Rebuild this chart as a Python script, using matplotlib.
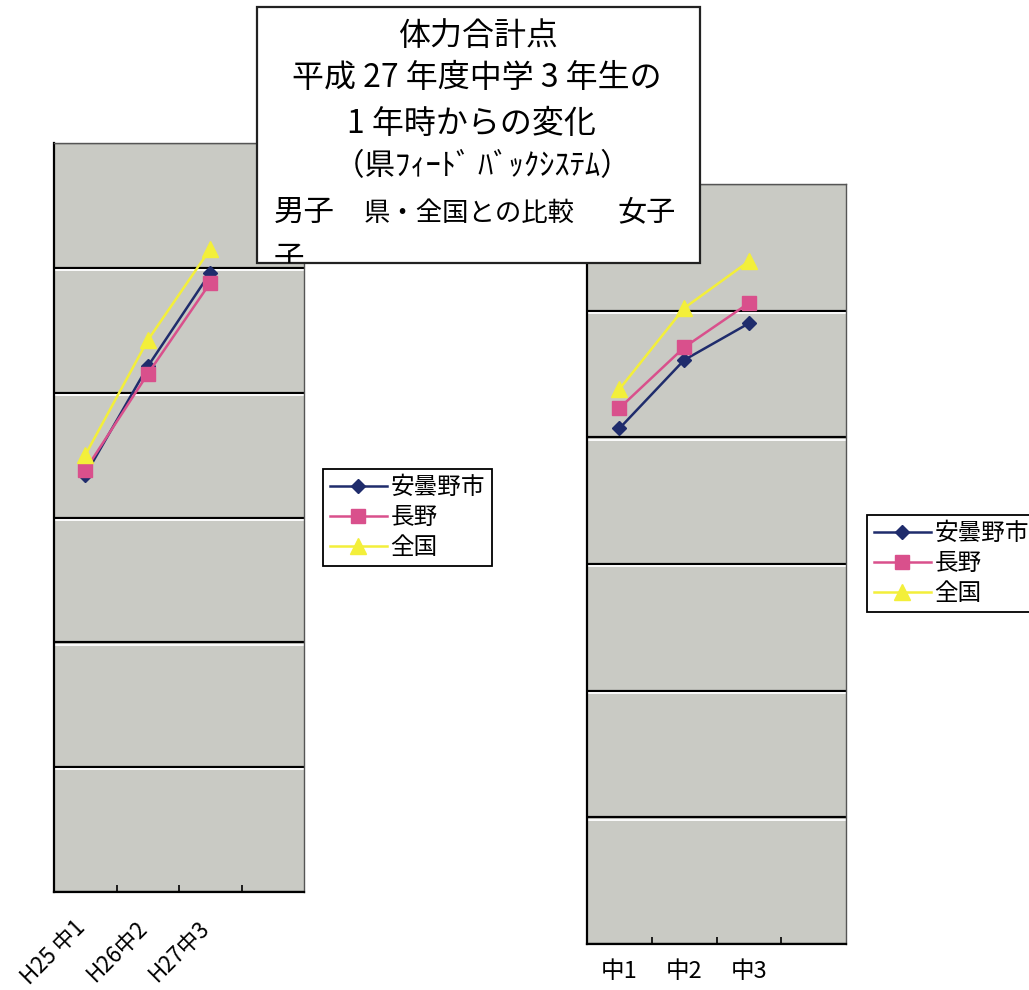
import matplotlib
matplotlib.use('Agg')
import matplotlib.pyplot as plt
from matplotlib.patches import Rectangle
from matplotlib.transforms import ScaledTranslation, blended_transform_factory

plt.rcParams['font.family'] = ['Noto Sans CJK JP', 'DejaVu Sans']

# ---------------- data ----------------
series_names = ['安曇野市', '長野', '全国']
boys_categories = ['H25 中1', 'H26中2', 'H27中3']
girls_categories = ['中1', '中2', '中3']

boys_azumino = [33.4, 42.1, 49.6]
boys_nagano = [33.8, 41.5, 48.8]
boys_national = [35.0, 44.2, 51.5]

girls_azumino = [40.7, 46.1, 49.0]
girls_nagano = [42.3, 47.1, 50.6]
girls_national = [43.8, 50.2, 53.9]

title_lines = ['体力合計点', '平成 27 年度中学 3 年生の', '1 年時からの変化',
               '（県ﾌｨｰﾄﾞ ﾊﾞｯｸｼｽﾃﾑ）']
sub_left, sub_mid, sub_right = '男子', '県・全国との比較', '女子'
overflow_char = '子'

# ---------------- style ----------------
W, H = 1029, 990
fig = plt.figure(figsize=(W / 100, H / 100), dpi=100)
fig.patch.set_facecolor('white')


def fx(px):
    return px / W


def fy(py):
    return 1 - py / H


colors = ['#1f2c6c', '#d9508c', '#f3ef3a']
markers = ['D', 's', '^']
msizes = [7, 10, 11]
plot_bg = '#c9cac4'


def make_panel(left, top, right, bottom, cats, data, rotated, legend_xy):
    ax = fig.add_axes([fx(left), fy(bottom), fx(right) - fx(left), fy(top) - fy(bottom)])
    ax.set_facecolor(plot_bg)
    ax.set_xlim(-0.5, 3.5)
    ax.set_ylim(0, 60)
    ax.set_yticks(range(0, 61, 10))
    ax.yaxis.grid(True, color='black', lw=1.6)
    ax.set_axisbelow(True)
    ax.tick_params(axis='y', length=0, labelleft=False)
    ax.set_xticks([0.5, 1.5, 2.5])
    ax.tick_params(axis='x', direction='in', length=5, width=1.2, labelbottom=False)
    off = ScaledTranslation(0, -2.2 / 100, fig.dpi_scale_trans)
    for yv in ax.get_yticks()[1:-1]:
        ax.plot([0, 1], [yv, yv], color='white', lw=1.3,
                transform=ax.get_yaxis_transform() + off, zorder=0.7)
    for s in ['left', 'bottom']:
        ax.spines[s].set_color('black')
        ax.spines[s].set_linewidth(1.6)
    for s in ['top', 'right']:
        ax.spines[s].set_color('#555555')
        ax.spines[s].set_linewidth(1.0)

    xs = list(range(len(cats)))
    handles = []
    for vals, name, c, m, ms in zip(data, series_names, colors, markers, msizes):
        h, = ax.plot(xs, vals, color=c, marker=m, ms=ms, mfc=c, mec=c, lw=1.8,
                     label=name, zorder=3, clip_on=False)
        handles.append(h)

    bt = blended_transform_factory(ax.transData, ax.transAxes)
    for i, cat in enumerate(cats):
        if rotated:
            ax.text(i, 0, cat, rotation=45, ha='right', va='top', rotation_mode='anchor',
                    fontsize=16,
                    transform=bt + ScaledTranslation(-12 / 100, -24 / 100, fig.dpi_scale_trans))
        else:
            ax.text(i, 0, cat, ha='center', va='center', fontsize=17,
                    transform=bt + ScaledTranslation(0, -28 / 100, fig.dpi_scale_trans))

    leg = ax.legend(handles, series_names, loc='upper left',
                    bbox_to_anchor=(fx(legend_xy[0]), fy(legend_xy[1])),
                    bbox_transform=fig.transFigure, frameon=True, fancybox=False,
                    edgecolor='black', framealpha=1, borderaxespad=0, fontsize=17,
                    handlelength=2.4, handletextpad=0.15, labelspacing=0.3,
                    borderpad=0.3)
    leg.get_frame().set_linewidth(1.3)
    return ax


make_panel(54, 143, 304, 892, boys_categories,
           [boys_azumino, boys_nagano, boys_national], True, (323, 469))
make_panel(587, 184, 846, 944, girls_categories,
           [girls_azumino, girls_nagano, girls_national], False, (867, 515))

# ---------------- title box ----------------
rect = Rectangle((fx(257), fy(263)), fx(700) - fx(257), fy(7) - fy(263),
                 transform=fig.transFigure, facecolor='white', edgecolor='#222222',
                 lw=1.6, zorder=5)
fig.add_artist(rect)

line_pos = [(478, 36, 23), (477, 78, 23), (471, 124, 23), (482, 167, 22)]
for txt, (x, y, fs) in zip(title_lines, line_pos):
    fig.text(fx(x), fy(y), txt, ha='center', va='center', fontsize=fs, zorder=6)

fig.text(fx(274), fy(212), sub_left, ha='left', va='center', fontsize=22, zorder=6)
fig.text(fx(364), fy(213), sub_mid, ha='left', va='center', fontsize=19, zorder=6)
fig.text(fx(618), fy(212), sub_right, ha='left', va='center', fontsize=21, zorder=6)
t = fig.text(fx(274), fy(258), overflow_char, ha='left', va='center', fontsize=22, zorder=6)
t.set_clip_path(rect)

fig.savefig('out.png', dpi=100, facecolor='white')
